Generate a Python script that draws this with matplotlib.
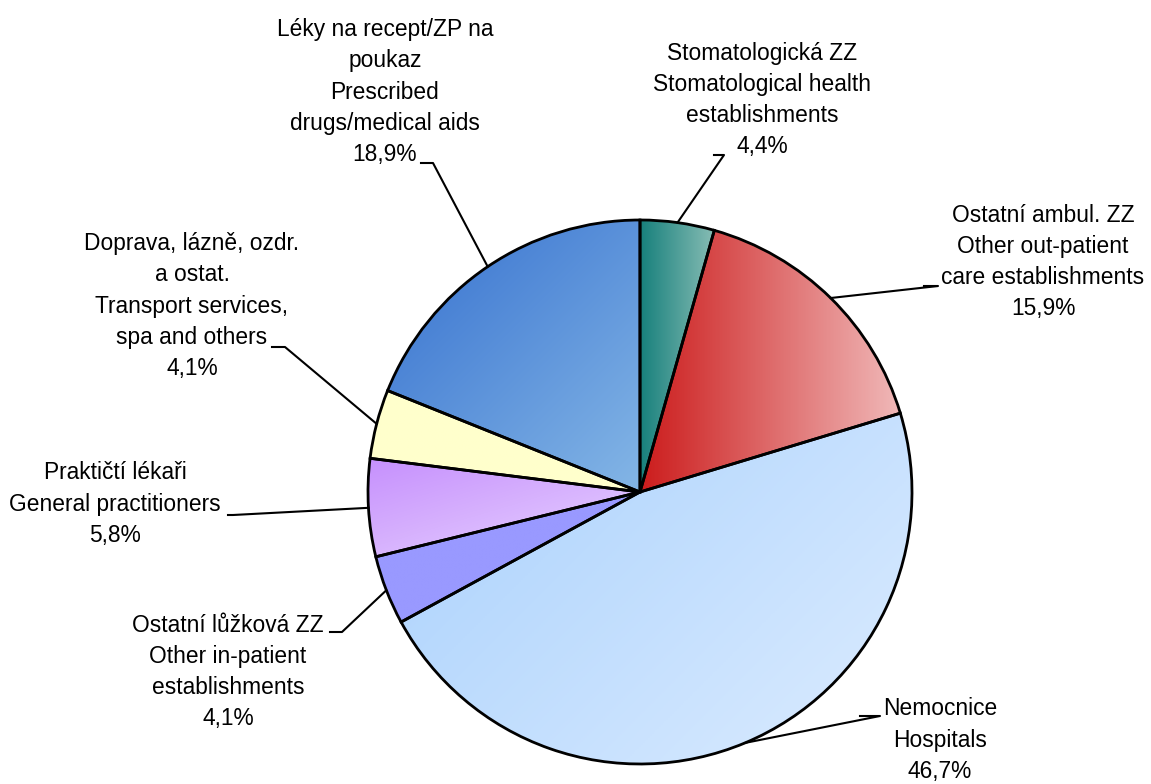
import numpy as np
import matplotlib
matplotlib.use("Agg")
import matplotlib.pyplot as plt
from matplotlib.colors import LinearSegmentedColormap

plt.rcParams['font.family'] = ['Liberation Sans Narrow', 'Liberation Sans', 'DejaVu Sans']

# data (clockwise from 12 o'clock)
labels = [
    "Stomatologická ZZ\nStomatological health\nestablishments",
    "Ostatní ambul. ZZ\nOther out-patient\ncare establishments",
    "Nemocnice\nHospitals",
    "Ostatní lůžková ZZ\nOther in-patient\nestablishments",
    "Praktičtí lékaři\nGeneral practitioners",
    "Doprava, lázně, ozdr.\na ostat.\nTransport services,\nspa and others",
    "Léky na recept/ZP na\npoukaz\nPrescribed\ndrugs/medical aids",
]
shares = [4.4, 15.9, 46.7, 4.1, 5.8, 4.1, 18.9]

# gradient start/end colours and direction (dx, dy in screen coords, y down)
grad = [
    ("#17807c", "#86bcb4", (1, 0)),
    ("#cc1c1c", "#f0b8b8", (1, 0)),
    ("#a9d1fd", "#dcecff", (1, 1)),
    ("#9999ff", "#9999ff", (1, 0)),
    ("#c690fd", "#e8d4ff", (0.3, 1)),
    ("#ffffcc", "#ffffcc", (1, 0)),
    ("#3570cf", "#84b6e6", (1, 1)),
]

W, H = 1151, 784
cx, cy, R = 640, 492, 272

# label block centres and leader elbows (pixel coords, y down)
lab_pos = [(762, 100), (1043, 262), (940, 740), (228, 672), (115, 504), (192, 306), (385, 92)]
elbows = [((714, 155), (724, 155)), ((924, 286), (938, 286)), ((860, 716), (880, 716)),
          ((330, 632), (342, 632)), ((228, 515), (233, 515)), ((272, 347), (285, 347)),
          ((421, 163), (433, 163))]

fig = plt.figure(figsize=(W / 100, H / 100), dpi=100)
ax = fig.add_axes([0, 0, 1, 1])

wedges, _ = ax.pie(shares, startangle=90, counterclock=False, center=(cx, H - cy), radius=R,
                   wedgeprops=dict(edgecolor='black', linewidth=2.0))

xs = np.linspace(cx - R, cx + R, 300)
ys = np.linspace(H - cy - R, H - cy + R, 300)
XX, YY = np.meshgrid(xs, ys)
for w, (c1, c2, (dx, dy)) in zip(wedges, grad):
    w.set_facecolor('none')
    cmap = LinearSegmentedColormap.from_list('g', [c1, c2])
    # projection on direction over the wedge bbox
    bb = w.get_path().get_extents()
    ux, uy = dx, -dy
    proj = XX * ux + YY * uy
    corners = [(bb.x0, bb.y0), (bb.x0, bb.y1), (bb.x1, bb.y0), (bb.x1, bb.y1)]
    pc = [x * ux + y * uy for x, y in corners]
    t = np.clip((proj - min(pc)) / (max(pc) - min(pc)), 0, 1)
    im = ax.imshow(t, cmap=cmap, extent=(xs[0], xs[-1], ys[0], ys[-1]), origin='lower',
                   vmin=0, vmax=1, zorder=0.5, interpolation='bilinear')
    im.set_clip_path(w)
    w.set_zorder(1)

for w, lab, s, (lx, ly), (p0, p1) in zip(wedges, labels, shares, lab_pos, elbows):
    ang = np.deg2rad((w.theta1 + w.theta2) / 2)
    rx = cx + R * np.cos(ang)
    ry = H - cy + R * np.sin(ang)
    txt = lab + "\n" + f"{s:.1f}".replace('.', ',') + "%"
    ax.text(lx, H - ly, txt, ha='center', va='center', fontsize=16.4, linespacing=1.45, zorder=3)
    ax.plot([p0[0], p1[0], rx], [H - p0[1], H - p1[1], ry], color='black', lw=1.5, zorder=2)

ax.set_xlim(0, W)
ax.set_ylim(0, H)
ax.set_aspect('equal')
ax.axis('off')
fig.savefig("out.png", dpi=100)
